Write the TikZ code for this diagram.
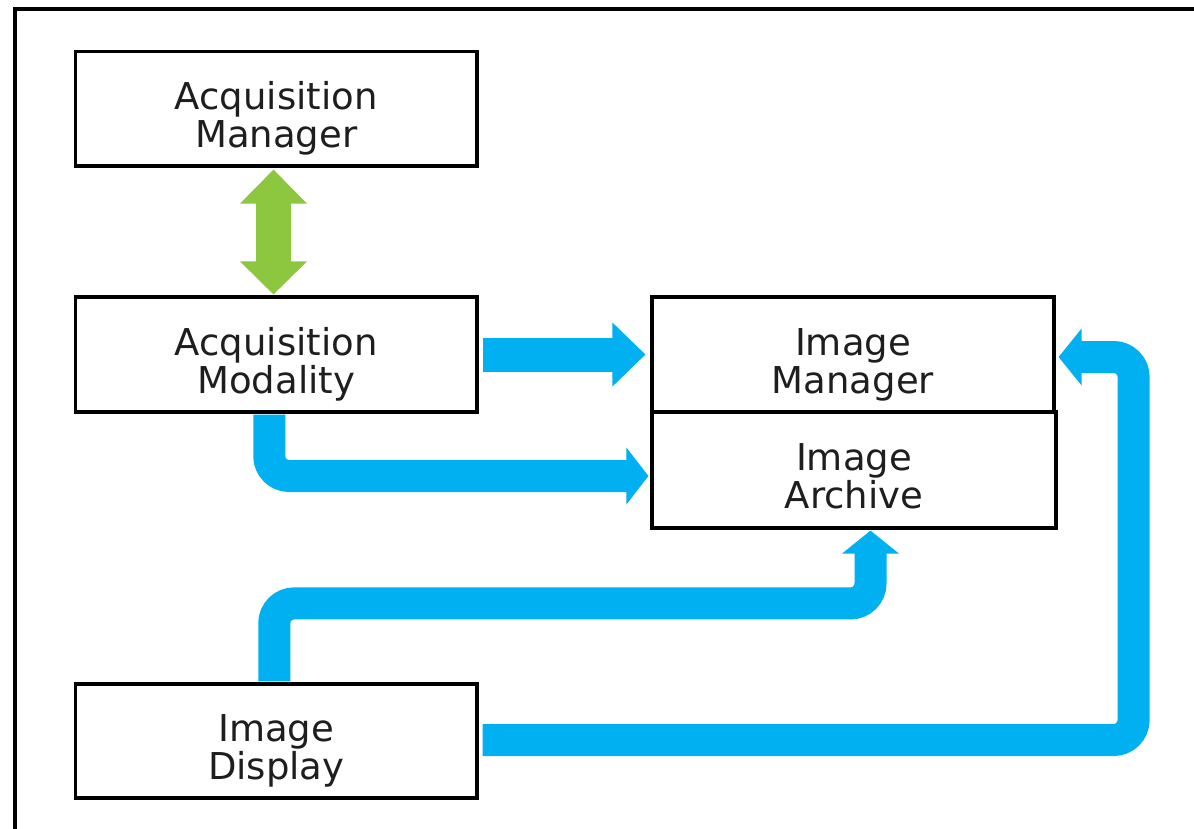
\documentclass[tikz,border=0pt]{standalone}
\usepackage{fontspec}
\setmainfont{DejaVu Sans}
\usetikzlibrary{calc}
\definecolor{ablue}{RGB}{0,176,240}
\definecolor{agreen}{RGB}{141,198,63}
\definecolor{atext}{RGB}{30,30,30}
\begin{document}
\begin{tikzpicture}[x=1pt,y=-1pt,
  box/.style={draw=black, line width=3.2pt, inner sep=0pt, align=center, text=atext,
    font=\fontsize{37}{38}\selectfont, text height=77pt, text depth=0pt},
  shaft/.style={draw=ablue, line width=#1, line cap=butt, rounded corners=20pt},
  shaft/.default=32pt,
  head/.style={fill=ablue}]
\useasboundingbox (0,0) rectangle (1194,828);
\begin{scope}
\clip (0,0) rectangle (1194,828);
\draw[line width=4pt] (14.5,8.5) rectangle (1220,850);
\end{scope}

\node[box, minimum width=401.5pt, minimum height=114.5pt] (am) at (276.25,108.75) {Acquisition\\Manager};
\node[box, minimum width=401.5pt, minimum height=115pt] (amod) at (276.25,354.5) {Acquisition\\Modality};
\node[box, minimum width=402pt, minimum height=115pt] (im) at (853,354.5) {Image\\Manager};
\node[box, minimum width=404pt, minimum height=116pt] (ia) at (854,470) {Image\\Archive};
\node[box, minimum width=401.5pt, minimum height=114pt] (id) at (276.25,741) {Image\\Display};

% green double arrow
\coordinate (g1) at ($(am.south)+(-2.75,2)$);
\coordinate (g2) at ($(amod.north)+(-2.75,-1)$);
\fill[agreen] (g1) -- ($(g1)+(33.5,34)$) -- ($(g1)+(17.5,34)$) -- ($(g2)+(17.5,-33)$)
  -- ($(g2)+(33.5,-33)$) -- (g2) -- ($(g2)+(-33.5,-33)$) -- ($(g2)+(-17.5,-33)$)
  -- ($(g1)+(-17.5,34)$) -- ($(g1)+(-33.5,34)$) -- cycle;

% arrow 1: modality -> image manager
\coordinate (s1) at ($(amod.east)+(4,0)$);
\coordinate (t1) at ($(im.west)+(-5,0)$);
\draw[shaft=34pt] (s1) -- ($(t1)+(-32,0)$);
\fill[head] (t1) -- ($(t1)+(-33,-32)$) -- ($(t1)+(-33,32)$) -- cycle;

% arrow 2: modality -> image archive
\coordinate (s2) at ($(amod.south)+(-7,1)$);
\coordinate (t2) at ($(ia.west)+(-2,6)$);
\draw[shaft] (s2) |- ($(t2)+(-21,0)$);
\fill[head] (t2) -- ($(t2)+(-22,-28.5)$) -- ($(t2)+(-22,28.5)$) -- cycle;

% arrow 3: display -> image archive
\coordinate (s3) at ($(id.north)+(-2,-1)$);
\coordinate (t3) at ($(ia.south)+(16.5,1)$);
\draw[shaft] (s3) -- ($(s3)+(0,-78)$) -| ($(t3)+(0,22)$);
\fill[head] (t3) -- ($(t3)+(-28.5,23)$) -- ($(t3)+(28.5,23)$) -- cycle;

% arrow 4: display -> image manager
\coordinate (s4) at ($(id.east)+(4,-1)$);
\coordinate (t4) at ($(im.east)+(3,2.5)$);
\draw[shaft] (s4) -| ($(t4)+(75,0)$) -- ($(t4)+(22,0)$);
\fill[head] (t4) -- ($(t4)+(23,-28.5)$) -- ($(t4)+(23,28.5)$) -- cycle;
\end{tikzpicture}
\end{document}
